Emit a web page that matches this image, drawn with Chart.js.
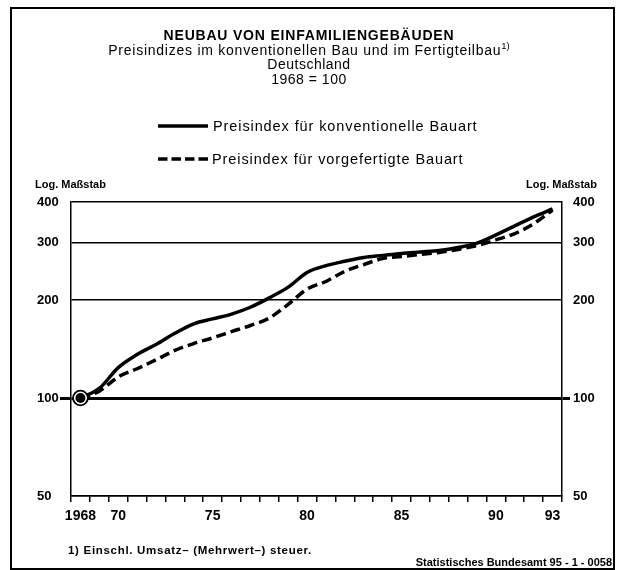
<!DOCTYPE html>
<html>
<head>
<meta charset="utf-8">
<script src="https://cdn.jsdelivr.net/npm/chart.js@4.4.1/dist/chart.umd.min.js"></script>
<style>
  body { margin: 0; background: #fff; font-family: "Liberation Sans", Arial, sans-serif; color: #000; }
  #wrap { position: relative; width: 621px; height: 570px; overflow: hidden; }
  #frame { position: absolute; left: 10px; top: 7px; width: 601px; height: 559px; border: 2px solid #000; }
  canvas { position: absolute; left: 0; top: 0; }
  .t { position: absolute; white-space: nowrap; line-height: 16px; }
  .c { left: 0; width: 618px; text-align: center; }
  sup { font-size: 9.5px; line-height: 0; letter-spacing: 0; }
</style>
</head>
<body>
<div id="wrap">
  <div id="frame"></div>
  <canvas id="chart" width="621" height="570"></canvas>

  <div class="t c" style="top:27px;font-size:14px;font-weight:bold;letter-spacing:0.8px;">NEUBAU VON EINFAMILIENGEBÄUDEN</div>
  <div class="t c" style="top:42px;font-size:14px;letter-spacing:0.75px;">Preisindizes im konventionellen Bau und im Fertigteilbau<sup>1)</sup></div>
  <div class="t c" style="top:56px;font-size:14px;letter-spacing:0.5px;">Deutschland</div>
  <div class="t c" style="top:71px;font-size:14px;letter-spacing:0.5px;">1968 = 100</div>

  <svg class="t" style="left:158px;top:120px;" width="52" height="12">
    <line x1="0" y1="6" x2="50" y2="6" stroke="#000" stroke-width="3.5"/>
  </svg>
  <div class="t" id="leg1" style="left:213px;top:118px;font-size:14.5px;letter-spacing:0.9px;"></div>
  <svg class="t" style="left:158px;top:153px;" width="52" height="12">
    <line x1="0" y1="6" x2="50" y2="6" stroke="#000" stroke-width="3.5" stroke-dasharray="9.5 4"/>
  </svg>
  <div class="t" id="leg2" style="left:212px;top:151px;font-size:14.5px;letter-spacing:0.9px;"></div>

  <div class="t" style="left:35px;top:176px;font-size:11px;font-weight:bold;">Log. Maßstab</div>
  <div class="t" style="left:526px;top:176px;font-size:11px;font-weight:bold;">Log. Maßstab</div>

  <div class="t" style="left:68px;top:542px;font-size:11.5px;font-weight:bold;letter-spacing:0.7px;">1) Einschl. Umsatz– (Mehrwert–) steuer.</div>
  <div class="t" style="right:9px;top:554px;font-size:11px;font-weight:bold;">Statistisches Bundesamt 95 - 1 - 0058</div>
</div>

<script>
// Jahre (Kategorien)
const years = [1968, 1969, 1970, 1971, 1972, 1973, 1974, 1975, 1976, 1977, 1978, 1979, 1980,
               1981, 1982, 1983, 1984, 1985, 1986, 1987, 1988, 1989, 1990, 1991, 1992, 1993];

// Preisindex fuer konventionelle Bauart (1968 = 100)
const konventionell = [100, 107, 124, 136, 146, 158, 169, 175, 181, 190, 203, 219, 243,
                       255, 263, 270, 274, 278, 281, 284, 290, 299, 317, 338, 360, 381];

// Preisindex fuer vorgefertigte Bauart (1968 = 100)
const vorgefertigt = [100, 105, 116, 123, 131, 140, 147, 153, 160, 167, 176, 194, 216,
                      228, 245, 257, 268, 272, 276, 280, 286, 294, 306, 320, 343, 378];

// Basispunkt 1968 = 100
const basis = [100];

const legendLabels = ["Preisindex für konventionelle Bauart", "Preisindex für vorgefertigte Bauart"];

const shownYears = [1968, 1970, 1975, 1980, 1985, 1990, 1993];
const xTickLabels = ["1968", "70", "75", "80", "85", "90", "93"];
const yTicks = [50, 100, 200, 300, 400];

document.getElementById("leg1").textContent = legendLabels[0];
document.getElementById("leg2").textContent = legendLabels[1];

Chart.defaults.font.family = "'Liberation Sans', Arial, sans-serif";
Chart.defaults.color = "#000";

const fixedTicks = function (scale) {
    scale.ticks = yTicks.map(v => ({ value: v }));
};
const tickCol = c => (c.tick && c.tick.value === 100 ? "#000" : "rgba(0,0,0,0)");

const ctx = document.getElementById("chart").getContext("2d");
new Chart(ctx, {
    type: "line",
    data: {
        labels: years,
        datasets: [
            {
                label: "dot", data: basis, showLine: false, order: 0,
                pointRadius: 5, pointBackgroundColor: "#000", pointBorderWidth: 0
            },
            {
                label: "ring", data: basis, showLine: false, order: 1,
                pointRadius: 7.4, pointBackgroundColor: "#fff",
                pointBorderColor: "#000", pointBorderWidth: 1.8
            },
            {
                label: legendLabels[0], data: konventionell, order: 2,
                borderColor: "#000", borderWidth: 3.5, pointRadius: 0,
                cubicInterpolationMode: "monotone", fill: false
            },
            {
                label: legendLabels[1], data: vorgefertigt, order: 3,
                borderColor: "#000", borderWidth: 3.5, borderDash: [10, 5], pointRadius: 0,
                cubicInterpolationMode: "monotone", fill: false
            }
        ]
    },
    options: {
        responsive: false,
        animation: false,
        layout: { padding: { top: 202, left: 37, right: 0, bottom: 0 } },
        plugins: {
            legend: { display: false },
            tooltip: { enabled: false }
        },
        scales: {
            x: {
                type: "category",
                offset: true,
                grid: {
                    offset: true, drawOnChartArea: false, drawTicks: true,
                    tickLength: 6, color: "#000", lineWidth: 1.5
                },
                border: { display: true, color: "#000", width: 1.5 },
                ticks: {
                    autoSkip: false, maxRotation: 0, padding: 6,
                    font: { size: 14, weight: "bold" },
                    callback: function (v, i) {
                        const k = shownYears.indexOf(years[i]);
                        return k >= 0 ? xTickLabels[k] : "";
                    }
                },
                afterFit: s => { s.height = 74; }
            },
            y: {
                type: "logarithmic",
                position: "left",
                min: 50, max: 400,
                afterBuildTicks: fixedTicks,
                grid: {
                    color: "#000",
                    lineWidth: c => (c.tick && c.tick.value === 100 ? 3 : 1.5),
                    tickLength: 11, tickColor: tickCol, tickWidth: 3
                },
                border: { display: true, color: "#000", width: 1.5 },
                ticks: {
                    crossAlign: "far", padding: 0,
                    font: { size: 13, weight: "bold" },
                    callback: v => String(v)
                },
                afterFit: s => { s.width = 34; }
            },
            y2: {
                type: "logarithmic",
                position: "right",
                min: 50, max: 400,
                afterBuildTicks: fixedTicks,
                grid: {
                    drawOnChartArea: false,
                    tickLength: 8, tickColor: tickCol, tickWidth: 3
                },
                border: { display: true, color: "#000", width: 1.5 },
                ticks: {
                    padding: 3,
                    font: { size: 13, weight: "bold" },
                    callback: v => String(v)
                },
                afterFit: s => { s.width = 59; }
            }
        }
    }
});
</script>
</body>
</html>
